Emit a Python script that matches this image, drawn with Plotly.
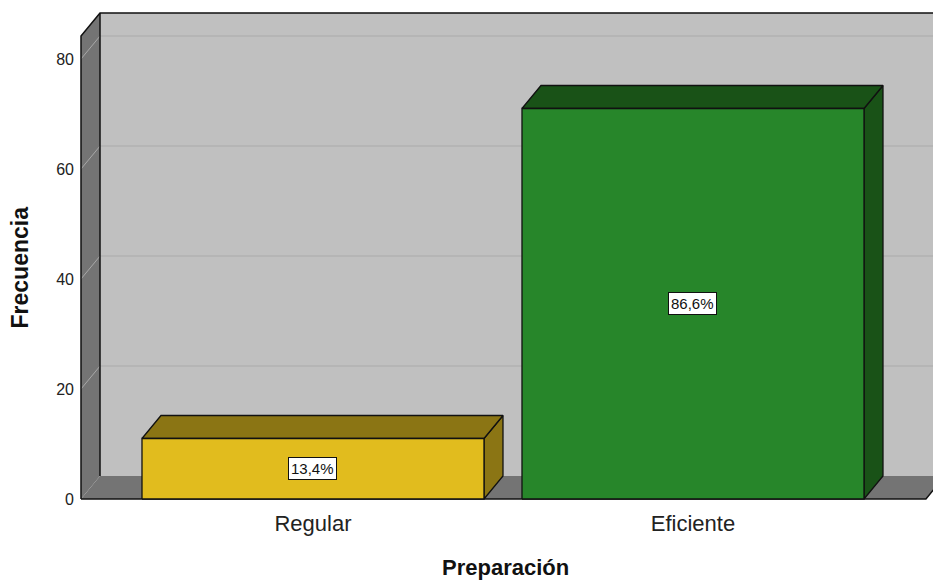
import plotly.graph_objects as go

# Frequency of each "Preparación" level
categories = ["Regular", "Eficiente"]
counts = [11, 71]
y_ticks = [0, 20, 40, 60, 80]

front_colors = ["#E1BC1E", "#27862A"]
shade_colors = ["#8B7514", "#195217"]

total = sum(counts)
pct_labels = [f"{c / total * 100:.1f}%".replace(".", ",") for c in counts]

# Geometry of the pseudo-3D box (data units)
BAR_W = 0.9
DX = 0.05           # depth offset along x
DY = 4.18           # depth offset along y
X_MIN, X_MAX = -0.6184, 1.6316
Y_MIN, Y_MAX = -0.545, 88.73
WALL_X = -0.6105    # front-left edge of the box
FLOOR_X = 1.613     # front-right edge of the floor
TOP_Y = Y_MAX - 0.36

WALL_BACK = "#C0C0C0"
WALL_SIDE = "#747474"
EDGE = "#111111"
FONT = "Liberation Sans, Arial, sans-serif"

fig = go.Figure()

shapes = []
# back wall
shapes.append(dict(type="rect", xref="x", yref="y", layer="below",
                   x0=WALL_X + DX, x1=X_MAX + 0.2, y0=DY, y1=TOP_Y,
                   fillcolor=WALL_BACK, line=dict(width=0)))
# floor
shapes.append(dict(type="path", xref="x", yref="y", layer="below",
                   path=f"M {WALL_X},0 L {WALL_X + DX},{DY} L {FLOOR_X + DX},{DY} L {FLOOR_X},0 Z",
                   fillcolor=WALL_SIDE, line=dict(width=0)))
# left wall
shapes.append(dict(type="path", xref="x", yref="y", layer="below",
                   path=f"M {WALL_X},0 L {WALL_X},{TOP_Y - DY} L {WALL_X + DX},{TOP_Y} L {WALL_X + DX},{DY} Z",
                   fillcolor=WALL_SIDE, line=dict(width=0)))
# gridlines on left and back walls
for v in y_ticks[1:]:
    shapes.append(dict(type="line", xref="x", yref="y", layer="below",
                       x0=WALL_X, y0=v, x1=WALL_X + DX, y1=v + DY,
                       line=dict(color="#A8A8A8", width=1)))
    shapes.append(dict(type="line", xref="x", yref="y", layer="below",
                       x0=WALL_X + DX, y0=v + DY, x1=X_MAX + 0.2, y1=v + DY,
                       line=dict(color="#ABABAB", width=1)))
# box outlines
outline = dict(color=EDGE, width=1.5)
shapes.append(dict(type="path", xref="x", yref="y", layer="below",
                   path=f"M {WALL_X},0 L {WALL_X},{TOP_Y - DY} L {WALL_X + DX},{TOP_Y} L {X_MAX + 0.2},{TOP_Y}",
                   line=outline))
shapes.append(dict(type="line", xref="x", yref="y", layer="below",
                   x0=WALL_X + DX, y0=DY, x1=WALL_X + DX, y1=TOP_Y, line=outline))
shapes.append(dict(type="path", xref="x", yref="y", layer="below",
                   path=f"M {WALL_X},0 L {FLOOR_X},0 L {FLOOR_X + DX},{DY}",
                   line=outline))

# 3D bars: right side face, top face and front face
for i, (v, fc, sc) in enumerate(zip(counts, front_colors, shade_colors)):
    x0, x1 = i - BAR_W / 2, i + BAR_W / 2
    faces = [
        ([x1, x1, x1 + DX, x1 + DX, x1], [0, v, v + DY, DY, 0], sc),
        ([x0, x0 + DX, x1 + DX, x1, x0], [v, v + DY, v + DY, v, v], sc),
        ([x0, x0, x1, x1, x0], [0, v, v, 0, 0], fc),
    ]
    for xs, ys, col in faces:
        fig.add_trace(go.Scatter(x=xs, y=ys, mode="lines", fill="toself",
                                 fillcolor=col, line=dict(color=EDGE, width=1.3),
                                 hoverinfo="skip", showlegend=False))

annotations = []
for i, (v, lab) in enumerate(zip(counts, pct_labels)):
    annotations.append(dict(x=i, y=v / 2, xref="x", yref="y", text=lab,
                            showarrow=False, bgcolor="white",
                            bordercolor="#111111", borderwidth=1, borderpad=2,
                            font=dict(family=FONT, size=15, color="#111111")))

annotations.append(dict(x=-0.0667, y=0.4776, xref="paper", yref="paper",
                        xanchor="center", yanchor="middle",
                        text="<b>Frecuencia</b>", textangle=-90, showarrow=False,
                        font=dict(family=FONT, size=23, color="#111111")))
annotations.append(dict(x=0.5, y=-0.1324, xref="paper", yref="paper",
                        xanchor="center", yanchor="middle",
                        text="<b>Preparación</b>", showarrow=False,
                        font=dict(family=FONT, size=22, color="#111111")))

fig.update_layout(
    width=933, height=582,
    margin=dict(l=78, r=0, t=11, b=80),
    paper_bgcolor="white", plot_bgcolor="white",
    shapes=shapes, annotations=annotations,
    xaxis=dict(range=[X_MIN, X_MAX], tickvals=[0, 1], ticktext=categories,
               showgrid=False, zeroline=False, showline=False, ticks="",
               ticklabelstandoff=6, fixedrange=True,
               tickfont=dict(family=FONT, size=22, color="#222222")),
    yaxis=dict(range=[Y_MIN, Y_MAX], tickvals=y_ticks,
               showgrid=False, zeroline=False, showline=False, ticks="",
               ticklabelstandoff=3, fixedrange=True,
               tickfont=dict(family=FONT, size=16, color="#222222")),
)

fig.write_html("out.html")
